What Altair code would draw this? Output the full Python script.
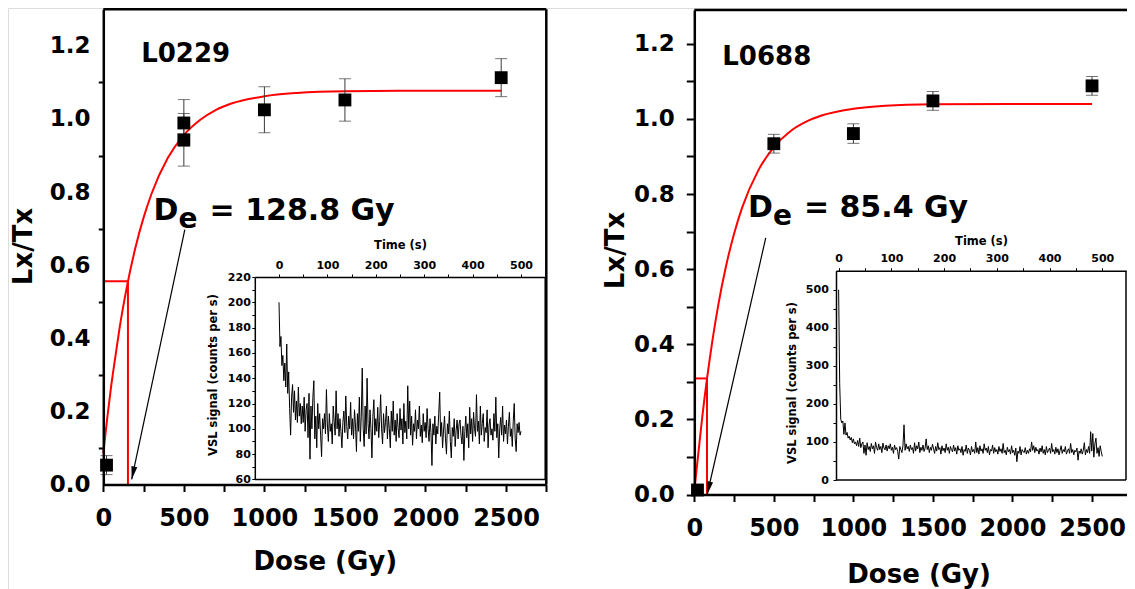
import altair as alt
import pandas as pd

FONT = "DejaVu Sans"
W, H = 1119, 581

# ---------------- left panel: sample L0229 ----------------
L_DOSE = [20, 500, 500, 1000, 1500, 2470]
L_RATIO = [0.053, 0.989, 0.943, 1.025, 1.052, 1.113]
L_ERR = [0.026, 0.064, 0.072, 0.063, 0.058, 0.052]
L_FIT_DOSE = [0, 25, 50, 75, 100, 150, 200, 250, 300, 400, 500, 600, 700, 800, 1000, 1200, 1500, 2000, 2470]
L_FIT_RATIO = [0.085, 0.184, 0.273, 0.350, 0.425, 0.549, 0.649, 0.730, 0.796, 0.893, 0.956, 0.997, 1.025,
               1.043, 1.062, 1.071, 1.076, 1.077, 1.077]
L_DE = [153, 0.556]
L_ARROW = [506, 0.697, 176, 0.014]
L_NAME = "L0229"
L_NAME_AT = [235, 1.157]
L_DE_TEXT = "= 128.8 Gy"
L_DE_AT = [312, 0.724]

# ---------------- right panel: sample L0688 ----------------
R_DOSE = [20, 500, 1000, 1500, 2500]
R_RATIO = [0.012, 0.934, 0.961, 1.048, 1.088]
R_ERR = [0.010, 0.025, 0.026, 0.025, 0.025]
R_FIT_DOSE = [0, 25, 50, 80, 100, 150, 200, 250, 300, 400, 500, 600, 700, 800, 1000, 1200, 1500, 2000, 2500]
R_FIT_RATIO = [0.010, 0.108, 0.206, 0.309, 0.370, 0.503, 0.609, 0.694, 0.763, 0.861, 0.925, 0.966, 0.992,
               1.009, 1.027, 1.035, 1.039, 1.040, 1.040]
R_DE = [80, 0.309]
R_ARROW = [449, 0.683, 81, 0.0]
R_NAME = "L0688"
R_NAME_AT = [176, 1.1435]
R_DE_TEXT = "= 85.4 Gy"
R_DE_AT = [337, 0.738]

# ---------------- insets: VSL decay curves (time step 2 s) ----------------
TIME = list(range(0, 501, 2))
L_VSL = [
    200, 165, 173, 150, 158, 138, 152, 133, 167, 128,
    145, 116, 95, 125, 135, 113, 130, 107, 122, 105,
    133, 110, 120, 104, 118, 105, 125, 98, 115, 120,
    93, 128, 76, 118, 100, 125, 138, 92, 110, 85,
    120, 100, 112, 95, 78, 108, 100, 112, 96, 131,
    103, 90, 112, 98, 104, 88, 118, 106, 95, 130,
    100, 112, 94, 108, 98, 85, 105, 114, 97, 126,
    102, 92, 110, 100, 121, 95, 108, 92, 115, 103,
    82, 112, 98, 125, 90, 110, 148, 100, 86, 118,
    96, 140, 104, 92, 115, 100, 77, 110, 123, 95,
    108, 98, 117, 93, 106, 127, 100, 88, 112, 97,
    105, 118, 92, 110, 100, 85, 114, 98, 122, 95,
    107, 90, 112, 101, 93, 116, 99, 108, 88, 120,
    97, 106, 92, 134, 100, 122, 95, 110, 87, 104,
    98, 115, 92, 107, 100, 118, 94, 103, 89, 112,
    98, 105, 93, 116, 100, 90, 108, 97, 71, 104,
    95, 110, 88, 102, 96, 112, 129, 94, 105, 85,
    99, 110, 92, 80, 104, 96, 114, 90, 77, 101,
    94, 108, 86, 99, 107, 92, 104, 107, 95, 88,
    102, 75, 98, 110, 93, 104, 85, 117, 96, 108,
    90, 113, 100, 94, 127, 98, 106, 88, 118, 95,
    104, 112, 90, 101, 97, 115, 85, 103, 108, 95,
    100, 91, 112, 98, 125, 93, 104, 77, 100, 109,
    95, 118, 90, 103, 96, 107, 88, 102, 113, 94,
    100, 86, 106, 120, 92, 82, 104, 97, 105, 95,
    98,
]
R_VSL = [
    500, 253, 160, 150, 155, 120, 150, 118, 125, 110,
    115, 105, 112, 98, 108, 95, 100, 90, 104, 88,
    110, 85, 95, 100, 70, 92, 65, 98, 80, 88,
    75, 96, 82, 90, 70, 100, 85, 78, 95, 80,
    88, 72, 97, 84, 79, 92, 76, 90, 82, 95,
    78, 86, 70, 92, 80, 85, 75, 55, 88, 80,
    72, 90, 145, 78, 95, 82, 88, 75, 92, 80,
    85, 70, 98, 76, 90, 82, 100, 72, 86, 78,
    92, 75, 84, 108, 80, 90, 72, 86, 78, 94,
    82, 70, 88, 76, 98, 80, 85, 68, 90, 77,
    84, 72, 95, 78, 86, 70, 88, 80, 74, 92,
    76, 85, 68, 90, 78, 82, 72, 88, 65, 80,
    75, 92, 70, 84, 78, 66, 88, 74, 80, 70,
    100, 72, 85, 68, 90, 76, 82, 70, 95, 78,
    84, 72, 88, 66, 80, 76, 92, 70, 85, 74,
    80, 68, 88, 75, 82, 70, 96, 72, 78, 66,
    86, 74, 80, 68, 90, 72, 78, 65, 84, 48,
    76, 70, 88, 66, 80, 74, 72, 85, 68, 78,
    70, 82, 74, 100, 78, 90, 72, 86, 76, 80,
    68, 84, 74, 90, 70, 80, 66, 88, 72, 78,
    84, 70, 96, 74, 80, 68, 86, 72, 82, 66,
    78, 90, 70, 80, 74, 88, 68, 76, 82, 70,
    96, 72, 80, 66, 78, 74, 84, 52, 76, 70,
    82, 68, 78, 98, 66, 80, 72, 88, 70, 127,
    76, 122, 60, 95, 110, 70, 85, 62, 90, 75,
    62,
]

# tick values
DOSE_TICKS = [0, 250, 500, 750, 1000, 1250, 1500, 1750, 2000, 2250, 2500, 2750]
RATIO_TICKS = [0.0, 0.1, 0.2, 0.3, 0.4, 0.5, 0.6, 0.7, 0.8, 0.9, 1.0, 1.1, 1.2]
TIME_TICKS = [0, 50, 100, 150, 200, 250, 300, 350, 400, 450, 500]
L_VSL_TICKS = [60, 70, 80, 90, 100, 110, 120, 130, 140, 150, 160, 170, 180, 190, 200, 210, 220]
R_VSL_TICKS = [0, 50, 100, 150, 200, 250, 300, 350, 400, 450, 500]

ARROW_SHAPE = "M0,0L-0.46,-2L0.46,-2Z"


def sc(domain, rng):
    return alt.Scale(domain=domain, range=rng, nice=False, zero=False)


# scales placed in pixel sub-ranges of one shared canvas
sxA = sc([0, 2750], [95.3, 538.3])
syA = sc([0, 1.3], [476.5, 1.3])
sxB = sc([0, 2750], [686.3, 1123.8])
syB = sc([0, 1.29], [486.5, 2.0])
sxC = sc([-50, 550], [246.8, 537.2])
syC = sc([60, 220], [471.4, 269.0])
sxD = sc([-5, 545], [828.0, 1118.0])
syD = sc([0, 550], [472.0, 262.7])

AX_MAIN = dict(labelFont=FONT, labelFontWeight="bold", labelColor="black", titleFont=FONT,
               titleFontWeight="bold", titleColor="black", domainColor="black", tickColor="black",
               grid=False, labelFlush=False, labelOverlap=False, zindex=1, domainWidth=2.5, tickWidth=2)
AX_IN = dict(labelFont=FONT, labelFontWeight="bold", labelFontSize=11, labelColor="black", titleFont=FONT,
             titleFontWeight="bold", titleFontSize=11.5, titleColor="black", domainColor="black",
             domainWidth=1.5, tickColor="black", tickWidth=1, tickSize=3, grid=False, labelFlush=False,
             labelOverlap=False, zindex=1)

EVEN = "round(datum.value*10) % 2 == 0"


def x_main(axis_y, title_y, title_x=None):
    extra = {} if title_x is None else {"titleX": title_x}
    return alt.Axis(orient="bottom", offset=axis_y - H, values=DOSE_TICKS, format="d",
                    labelExpr="datum.value % 500 == 0 ? datum.label : ''", labelFontSize=24,
                    labelPadding=14.5, tickSize=7, title="Dose (Gy)", titleFontSize=26,
                    titleY=title_y, titleBaseline="alphabetic", **extra, **AX_MAIN)


yA_axis = alt.Axis(orient="left", offset=-95.3, values=RATIO_TICKS,
                   labelExpr=EVEN + " ? format(datum.value, '.1f') : ''", labelFontSize=23,
                   labelPadding=8.3, tickSize=5,
                   tickOpacity={"condition": {"test": EVEN, "value": 0}, "value": 1},
                   title="Lx/Tx", titleFontSize=26, titleAngle=270, titleX=-72, titleY=238,
                   titleAlign="center", titleBaseline="alphabetic", **AX_MAIN)
yB_axis = alt.Axis(orient="left", offset=-686.3, values=RATIO_TICKS,
                   labelExpr=EVEN + " ? format(datum.value, '.1f') : ''", labelFontSize=23,
                   labelPadding=12, tickSize=8,
                   title="Lx/Tx", titleFontSize=26, titleAngle=270, titleX=-71, titleY=242,
                   titleAlign="center", titleBaseline="alphabetic", **AX_MAIN)


def main_panel(sx, sy, xaxis, yaxis, dose, ratio, err, fdose, fratio, de, arrow, name, name_at,
               de_text, de_at, xmax, ymax, angle):
    def X(f, axis=None):
        return alt.X(f, type="quantitative", scale=sx, axis=axis)

    def Y(f, axis=None):
        return alt.Y(f, type="quantitative", scale=sy, axis=axis)

    fit = alt.Chart(pd.DataFrame({"d": fdose, "r": fratio})).mark_line(
        color="#ff0000", strokeWidth=2, interpolate="monotone").encode(x=X("d", xaxis), y=Y("r", yaxis))

    gdf = pd.DataFrame({"x": [0, de[0]], "x2": [de[0], de[0]], "y": [de[1], 0], "y2": [de[1], de[1]]})
    guides = alt.Chart(gdf).mark_rule(color="#ff0000", strokeWidth=2).encode(
        x=X("x"), x2="x2:Q", y=Y("y"), y2="y2:Q")

    pts = pd.DataFrame({"d": dose, "r": ratio,
                        "lo": [r - e for r, e in zip(ratio, err)],
                        "hi": [r + e for r, e in zip(ratio, err)]})
    bars = alt.Chart(pts).mark_rule(color="#3a3a3a", strokeWidth=1).encode(
        x=X("d"), y=Y("lo"), y2="hi:Q")
    caps = alt.Chart(pts).transform_fold(["lo", "hi"], as_=["k", "v"]).mark_tick(
        orient="horizontal", size=12, thickness=1, color="#3a3a3a").encode(x=X("d"), y=Y("v"))
    squares = alt.Chart(pts).mark_square(size=165, color="black", opacity=1, filled=True).encode(
        x=X("d"), y=Y("r"))

    fdf = pd.DataFrame({"x": [0, xmax], "x2": [xmax, xmax], "y": [ymax, 0], "y2": [ymax, ymax]})
    frame = alt.Chart(fdf).mark_rule(color="black", strokeWidth=2.5).encode(
        x=X("x"), x2="x2:Q", y=Y("y"), y2="y2:Q")

    adf = pd.DataFrame({"x": [arrow[0]], "y": [arrow[1]], "x2": [arrow[2]], "y2": [arrow[3]]})
    aline = alt.Chart(adf).mark_rule(color="black", strokeWidth=1.2).encode(
        x=X("x"), y=Y("y"), x2="x2:Q", y2="y2:Q")
    ahead = alt.Chart(adf).mark_point(shape=ARROW_SHAPE, size=170, filled=True, color="black",
                                      opacity=1, angle=angle, strokeWidth=0).encode(x=X("x2"), y=Y("y2"))

    tstyle = dict(font=FONT, fontWeight="bold", align="left", baseline="alphabetic", color="black")
    ndf = pd.DataFrame({"x": [name_at[0]], "y": [name_at[1]]})
    name_t = alt.Chart(ndf).mark_text(text=name, fontSize=26, **tstyle).encode(x=X("x"), y=Y("y"))
    ddf = pd.DataFrame({"x": [de_at[0]], "y": [de_at[1]]})
    d_t = alt.Chart(ddf).mark_text(text="D", fontSize=30, **tstyle).encode(x=X("x"), y=Y("y"))
    e_t = alt.Chart(ddf).mark_text(text="e", fontSize=28, dx=25, dy=8, **tstyle).encode(x=X("x"), y=Y("y"))
    r_t = alt.Chart(ddf).mark_text(text=de_text, fontSize=30, dx=56, **tstyle).encode(x=X("x"), y=Y("y"))

    return [fit, guides, bars, caps, squares, frame, aline, ahead, name_t, d_t, e_t, r_t]


def inset(sx, sy, xaxis, yaxis, t, v, xr, yr):
    sig = alt.Chart(pd.DataFrame({"t": t, "v": v})).mark_line(color="black", strokeWidth=1).encode(
        x=alt.X("t:Q", scale=sx, axis=xaxis), y=alt.Y("v:Q", scale=sy, axis=yaxis))
    fdf = pd.DataFrame({"x": [xr[0], xr[1]], "x2": [xr[1], xr[1]], "y": [yr[0], yr[0]], "y2": [yr[0], yr[1]]})
    frame = alt.Chart(fdf).mark_rule(color="black", strokeWidth=1.5).encode(
        x=alt.X("x:Q", scale=sx, axis=None), x2="x2:Q",
        y=alt.Y("y:Q", scale=sy, axis=None), y2="y2:Q")
    return [sig, frame]


layersA = main_panel(sxA, syA, x_main(476.5, 85), yA_axis, L_DOSE, L_RATIO, L_ERR, L_FIT_DOSE, L_FIT_RATIO,
                     L_DE, L_ARROW, L_NAME, L_NAME_AT, L_DE_TEXT, L_DE_AT, 2750, 1.3, 12)
layersB = main_panel(sxB, syB, x_main(486.5, 87.5, 910.6), yB_axis, R_DOSE, R_RATIO, R_ERR, R_FIT_DOSE,
                     R_FIT_RATIO, R_DE, R_ARROW, R_NAME, R_NAME_AT, R_DE_TEXT, R_DE_AT, 2750, 1.29, 13)

xC_axis = alt.Axis(orient="top", offset=-269.0, values=TIME_TICKS,
                   labelExpr="datum.value % 100 == 0 ? datum.label : ''", labelPadding=4,
                   title="Time (s)", titleY=-28.7, titleBaseline="alphabetic", **AX_IN)
yC_axis = alt.Axis(orient="left", offset=-246.8, values=L_VSL_TICKS,
                   labelExpr="datum.value % 20 == 0 ? datum.label : ''", labelPadding=1.5,
                   title="VSL signal (counts per s)", titleAngle=270, titleX=-38.8, titleY=366.5,
                   titleAlign="center", titleBaseline="alphabetic", **AX_IN)
xD_axis = alt.Axis(orient="top", offset=-262.7, values=TIME_TICKS,
                   labelExpr="datum.value % 100 == 0 ? datum.label : ''", labelPadding=4.7,
                   title="Time (s)", titleY=-26.7, titleBaseline="alphabetic", **AX_IN)
yD_axis = alt.Axis(orient="left", offset=-828.0, values=R_VSL_TICKS,
                   labelExpr="datum.value % 100 == 0 ? datum.label : ''", labelPadding=4.7,
                   title="VSL signal (counts per s)", titleAngle=270, titleX=-41, titleY=374.5,
                   titleAlign="center", titleBaseline="alphabetic", **AX_IN)

layersC = inset(sxC, syC, xC_axis, yC_axis, TIME, L_VSL, [-50, 550], [60, 220])
layersD = inset(sxD, syD, xD_axis, yD_axis, TIME, R_VSL, [-5, 545], [0, 550])

chart = (
    alt.layer(*(layersA + layersB + layersC + layersD))
    .resolve_scale(x="independent", y="independent")
    .resolve_axis(x="independent", y="independent")
    .properties(width=W, height=H, padding=0, autosize=alt.AutoSizeParams(type="none"))
    .configure_view(stroke=None)
    .configure(font=FONT)
)

chart.save("out.html", embed_options={"renderer": "svg", "actions": False})
